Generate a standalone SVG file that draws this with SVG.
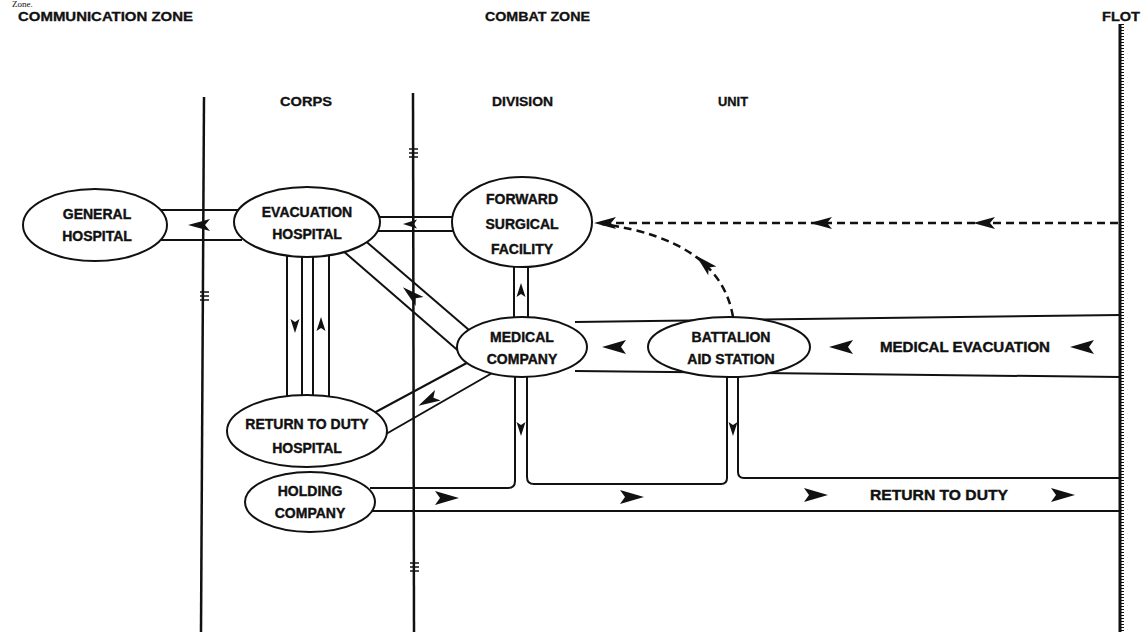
<svg xmlns="http://www.w3.org/2000/svg" width="1146" height="632" viewBox="0 0 1146 632">
<style>
.bg{fill:#fff}
.zl{stroke:#111;stroke-width:2.5;fill:none}
.hatch{stroke:#111;stroke-width:1.5}
.band{stroke:#111;stroke-width:2;fill:none}
.dash{stroke:#111;stroke-width:2.5;fill:none;stroke-dasharray:8 5}
.node{fill:#fff;stroke:#111;stroke-width:2}
.t{font-family:"Liberation Sans",Arial,sans-serif;font-weight:bold;font-size:14px;fill:#111;stroke:#111;stroke-width:0.4;text-anchor:middle}
.h{font-family:"Liberation Sans",Arial,sans-serif;font-weight:bold;font-size:12px;fill:#111;stroke:#111;stroke-width:0.3}
.ah{fill:#111}
</style>
<defs>
<path id="aL" d="M-13,0 L11,-7 L6,0 L11,7 Z"/>
<path id="aS" d="M-12,0 L10,-6 L5,0 L10,6 Z"/>
<path id="aT" d="M-8,0 L6,-4.5 L3,0 L6,4.5 Z"/>
</defs>
<rect class="bg" x="0" y="0" width="1146" height="632"/>
<text x="12" y="7" style="font-family:'Liberation Serif',serif;font-size:9px;fill:#111">Zone.</text>

<g id="zones">
<line class="zl" x1="204" y1="97" x2="201" y2="632"/>
<line class="zl" x1="413" y1="93" x2="414" y2="632"/>
<line x1="1120" y1="24" x2="1120" y2="632" stroke="#111" stroke-width="3"/>
<line x1="1122" y1="24" x2="1122" y2="632" stroke="#111" stroke-width="4" stroke-dasharray="1 2"/>
<g class="hatch">
<line x1="409" y1="149" x2="418" y2="149"/><line x1="409" y1="153" x2="418" y2="153"/><line x1="409" y1="157" x2="418" y2="157"/>
<line x1="200" y1="292" x2="209" y2="292"/><line x1="200" y1="296" x2="209" y2="296"/><line x1="200" y1="300" x2="209" y2="300"/>
<line x1="410" y1="563" x2="419" y2="563"/><line x1="410" y1="567" x2="419" y2="567"/><line x1="410" y1="571" x2="419" y2="571"/>
</g>
<text class="h" x="18" y="21" textLength="175" lengthAdjust="spacingAndGlyphs">COMMUNICATION ZONE</text>
<text class="h" x="485" y="21" textLength="105" lengthAdjust="spacingAndGlyphs">COMBAT ZONE</text>
<text class="h" x="1102" y="21" textLength="38" lengthAdjust="spacingAndGlyphs">FLOT</text>
<text class="h" x="280" y="106" textLength="52" lengthAdjust="spacingAndGlyphs">CORPS</text>
<text class="h" x="492" y="106" textLength="61" lengthAdjust="spacingAndGlyphs">DIVISION</text>
<text class="h" x="718" y="106" textLength="30" lengthAdjust="spacingAndGlyphs">UNIT</text>
</g>

<g id="connectors">
<!-- General - Evacuation -->
<line class="band" x1="160" y1="210" x2="242" y2="210"/>
<line class="band" x1="160" y1="240" x2="242" y2="240"/>
<use href="#aS" class="ah" x="200" y="225"/>
<!-- Evacuation - Forward Surgical -->
<line class="band" x1="370" y1="217" x2="460" y2="217"/>
<line class="band" x1="370" y1="231" x2="460" y2="231"/>
<use href="#aT" class="ah" x="411" y="224"/>
<!-- Forward Surgical - Medical Company -->
<line class="band" x1="514" y1="260" x2="514" y2="322"/>
<line class="band" x1="528" y1="260" x2="528" y2="322"/>
<use href="#aT" class="ah" transform="translate(521,291) rotate(90)"/>
<!-- Evacuation - Medical Company diagonal -->
<line class="band" x1="362" y1="238" x2="476" y2="336"/>
<line class="band" x1="342" y1="250" x2="462" y2="354"/>
<use href="#aS" class="ah" transform="translate(412,295) rotate(41)"/>
<!-- Medical Company - Return to Duty diagonal -->
<line class="band" x1="476" y1="358" x2="372" y2="414"/>
<line class="band" x1="494" y1="372" x2="386" y2="434"/>
<use href="#aS" class="ah" transform="translate(429,400) rotate(-28)"/>
<!-- Evacuation - Return to Duty vertical pair -->
<line class="band" x1="287" y1="245" x2="287" y2="405"/>
<line class="band" x1="302" y1="245" x2="302" y2="405"/>
<line class="band" x1="313" y1="245" x2="313" y2="405"/>
<line class="band" x1="329" y1="245" x2="329" y2="405"/>
<use href="#aT" class="ah" transform="translate(295,325) rotate(-90)"/>
<use href="#aT" class="ah" transform="translate(321,325) rotate(90)"/>
<!-- Medical evacuation band -->
<line class="band" x1="575" y1="322" x2="1120" y2="315"/>
<line class="band" x1="575" y1="371" x2="1120" y2="377"/>
<use href="#aL" class="ah" x="615" y="347"/>
<use href="#aL" class="ah" x="842" y="347"/>
<use href="#aL" class="ah" x="1083" y="347"/>
<text class="t" x="965" y="352" textLength="170" lengthAdjust="spacingAndGlyphs">MEDICAL EVACUATION</text>
<!-- Dashed from FLOT to Forward Surgical -->
<line class="dash" x1="1118" y1="223" x2="600" y2="223"/>
<use href="#aS" class="ah" x="606" y="223"/>
<use href="#aS" class="ah" x="822" y="223"/>
<use href="#aS" class="ah" x="985" y="223"/>
<!-- Dashed curve from BAS to Forward Surgical -->
<path class="dash" d="M733,317 Q720,240 602,224"/>
<use href="#aS" class="ah" transform="translate(705,264) rotate(43)"/>
<!-- Return to duty band -->
<path class="band" d="M370,488 L508,488 Q515,488 515,481 L515,370"/>
<path class="band" d="M527,370 L527,477 Q527,484 534,484 L721,484 Q727,484 727,478 L727,370"/>
<path class="band" d="M738,370 L738,472 Q738,478 744,478 L1120,478"/>
<line class="band" x1="370" y1="511" x2="1120" y2="511"/>
<use href="#aT" class="ah" transform="translate(521,428) rotate(-90)"/>
<use href="#aT" class="ah" transform="translate(733,428) rotate(-90)"/>
<use href="#aL" class="ah" transform="translate(446,498) rotate(180)"/>
<use href="#aL" class="ah" transform="translate(631,497) rotate(180)"/>
<use href="#aL" class="ah" transform="translate(815,495) rotate(180)"/>
<use href="#aL" class="ah" transform="translate(1062,495) rotate(180)"/>
<text class="t" x="939" y="500" textLength="138" lengthAdjust="spacingAndGlyphs">RETURN TO DUTY</text>
</g>

<g id="general-hospital">
<ellipse class="node" cx="95" cy="225" rx="72" ry="36"/>
<text class="t" x="97" y="219">GENERAL</text>
<text class="t" x="97" y="241">HOSPITAL</text>
</g>
<g id="evacuation-hospital">
<ellipse class="node" cx="307" cy="222" rx="73" ry="35"/>
<text class="t" x="307" y="217">EVACUATION</text>
<text class="t" x="307" y="239">HOSPITAL</text>
</g>
<g id="forward-surgical-facility">
<ellipse class="node" cx="522" cy="222" rx="70" ry="45"/>
<text class="t" x="522" y="204">FORWARD</text>
<text class="t" x="522" y="229">SURGICAL</text>
<text class="t" x="522" y="254">FACILITY</text>
</g>
<g id="medical-company">
<ellipse class="node" cx="522" cy="347" rx="65" ry="30"/>
<text class="t" x="522" y="342">MEDICAL</text>
<text class="t" x="522" y="364">COMPANY</text>
</g>
<g id="battalion-aid-station">
<ellipse class="node" cx="729" cy="347" rx="81" ry="30"/>
<text class="t" x="731" y="342">BATTALION</text>
<text class="t" x="731" y="364">AID STATION</text>
</g>
<g id="return-to-duty-hospital">
<ellipse class="node" cx="307" cy="431" rx="80" ry="36"/>
<text class="t" x="307" y="429">RETURN TO DUTY</text>
<text class="t" x="307" y="453">HOSPITAL</text>
</g>
<g id="holding-company">
<ellipse class="node" cx="310" cy="502" rx="65" ry="30"/>
<text class="t" x="310" y="496">HOLDING</text>
<text class="t" x="310" y="518">COMPANY</text>
</g>
</svg>
